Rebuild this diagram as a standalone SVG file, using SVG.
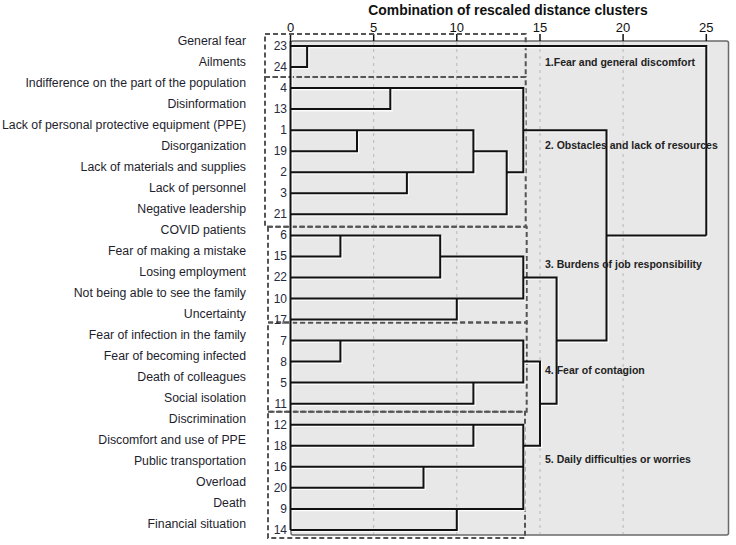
<svg xmlns="http://www.w3.org/2000/svg" xmlns:xlink="http://www.w3.org/1999/xlink" width="736" height="545" viewBox="0 0 736 545">
<style>
  .lbl { font-family: "Liberation Sans", Arial, sans-serif; font-size: 12.3px; fill: #1e1e2e; text-anchor: end; }
  .num { font-family: "Liberation Sans", Arial, sans-serif; font-size: 12px; fill: #262a40; text-anchor: end; }
  .axis { font-family: "Liberation Sans", Arial, sans-serif; font-size: 13px; fill: #111; text-anchor: middle; }
  .title { font-family: "Liberation Sans", Arial, sans-serif; font-size: 13.9px; font-weight: bold; fill: #111; text-anchor: middle; }
  .clab { font-family: "Liberation Sans", Arial, sans-serif; font-size: 10.5px; font-weight: bold; fill: #222; }
  .grid { stroke: #b8b8b8; stroke-width: 1; stroke-dasharray: 3 4; fill: none; }
  .tick { stroke: #111; stroke-width: 1.5; }
  .box { fill: none; stroke: #555; stroke-width: 2; stroke-dasharray: 5 3; }
  #connectors path { fill: none; stroke-width: 2; stroke-linejoin: miter; }
</style>

<!-- plot panel -->
<rect x="291" y="41" width="437.5" height="494" rx="2" fill="#e8e8e8" stroke="#6a6a6a" stroke-width="1.5"/>

<!-- grid lines -->
<g id="grid">
  <line class="grid" x1="373.7" y1="42" x2="373.7" y2="534"/>
  <line class="grid" x1="456.8" y1="42" x2="456.8" y2="534"/>
  <line class="grid" x1="540" y1="42" x2="540" y2="534"/>
  <line class="grid" x1="623.1" y1="42" x2="623.1" y2="534"/>
</g>

<!-- axis -->
<g id="axis">
  <text class="title" x="508" y="15">Combination of rescaled distance clusters</text>
  <text class="axis" x="290.5" y="32">0</text>
  <text class="axis" x="373.7" y="32">5</text>
  <text class="axis" x="456.8" y="32">10</text>
  <text class="axis" x="540" y="32">15</text>
  <text class="axis" x="623.1" y="32">20</text>
  <text class="axis" x="706.3" y="32">25</text>
  <line class="tick" x1="290.5" y1="34" x2="290.5" y2="41"/>
  <line class="tick" x1="373.7" y1="34" x2="373.7" y2="41"/>
  <line class="tick" x1="456.8" y1="34" x2="456.8" y2="41"/>
  <line class="tick" x1="540" y1="34" x2="540" y2="41"/>
  <line class="tick" x1="623.1" y1="34" x2="623.1" y2="41"/>
  <line class="tick" x1="706.3" y1="34" x2="706.3" y2="41"/>
</g>

<!-- dashed cluster boxes -->
<g id="cluster-boxes">
  <rect class="box" x="265" y="34" width="260.7" height="43"/>
  <rect class="box" x="265" y="77" width="260.7" height="149.7"/>
  <rect class="box" x="268" y="226.7" width="258.7" height="95.8"/>
  <rect class="box" x="268" y="322.5" width="258.7" height="89.2"/>
  <rect class="box" x="268" y="411.7" width="257" height="126.3"/>
</g>

<!-- connectors (white halo + black lines) -->
<use xlink:href="#connectors" href="#connectors" stroke="#ffffff" transform="translate(1.3,1.3)" opacity="0.9"/>
<g id="connector-lines" stroke="#111">
  <g id="connectors">
    <path d="M290.5 41V530"/>
    <path d="M290.5 46H706.3V235.4"/>
    <path d="M307.1 46V67H290.5"/>
    <path d="M290.5 88.1H523.3V172.2H506.7"/>
    <path d="M390.3 88.1V109.1H290.5"/>
    <path d="M290.5 130.2H473.4V172.2H290.5"/>
    <path d="M357 130.2V151.2H290.5"/>
    <path d="M406.9 172.2V193.3H290.5"/>
    <path d="M473.4 151.2H506.7V214.3H290.5"/>
    <path d="M523.3 130.2H606.5V340.6H556.6"/>
    <path d="M606.5 235.4H706.3"/>
    <path d="M290.5 235.4H440.2V277.4H290.5"/>
    <path d="M340.4 235.4V256.4H290.5"/>
    <path d="M440.2 256.4H523.3V298.5H290.5"/>
    <path d="M456.8 298.5V319.5H290.5"/>
    <path d="M523.3 277.4H556.6V403.7H540"/>
    <path d="M290.5 340.6H523.3V382.6H290.5"/>
    <path d="M340.4 340.6V361.6H290.5"/>
    <path d="M473.4 382.6V403.7H290.5"/>
    <path d="M523.3 361.6H540V445.8H523.3"/>
    <path d="M290.5 424.7H523.3V508.9H290.5"/>
    <path d="M473.4 424.7V445.8H290.5"/>
    <path d="M290.5 466.8H523.3"/>
    <path d="M423.5 466.8V487.8H290.5"/>
    <path d="M456.8 508.9V529.9H290.5"/>
  </g>
</g>

<!-- leaf nodes -->
<g id="leaf-23"><text class="lbl" x="246" y="44.5">General fear</text><text class="num" x="287" y="50">23</text></g>
<g id="leaf-24"><text class="lbl" x="246" y="65.5">Ailments</text><text class="num" x="287" y="71">24</text></g>
<g id="leaf-4"><text class="lbl" x="246" y="86.6">Indifference on the part of the population</text><text class="num" x="287" y="92.1">4</text></g>
<g id="leaf-13"><text class="lbl" x="246" y="107.6">Disinformation</text><text class="num" x="287" y="113.1">13</text></g>
<g id="leaf-1"><text class="lbl" x="246" y="128.7">Lack of personal protective equipment (PPE)</text><text class="num" x="287" y="134.2">1</text></g>
<g id="leaf-19"><text class="lbl" x="246" y="149.7">Disorganization</text><text class="num" x="287" y="155.2">19</text></g>
<g id="leaf-2"><text class="lbl" x="246" y="170.7">Lack of materials and supplies</text><text class="num" x="287" y="176.2">2</text></g>
<g id="leaf-3"><text class="lbl" x="246" y="191.8">Lack of personnel</text><text class="num" x="287" y="197.3">3</text></g>
<g id="leaf-21"><text class="lbl" x="246" y="212.8">Negative leadership</text><text class="num" x="287" y="218.3">21</text></g>
<g id="leaf-6"><text class="lbl" x="246" y="233.9">COVID patients</text><text class="num" x="287" y="239.4">6</text></g>
<g id="leaf-15"><text class="lbl" x="246" y="254.9">Fear of making a mistake</text><text class="num" x="287" y="260.4">15</text></g>
<g id="leaf-22"><text class="lbl" x="246" y="275.9">Losing employment</text><text class="num" x="287" y="281.4">22</text></g>
<g id="leaf-10"><text class="lbl" x="246" y="297">Not being able to see the family</text><text class="num" x="287" y="302.5">10</text></g>
<g id="leaf-17"><text class="lbl" x="246" y="318">Uncertainty</text><text class="num" x="287" y="323.5">17</text></g>
<g id="leaf-7"><text class="lbl" x="246" y="339.1">Fear of infection in the family</text><text class="num" x="287" y="344.6">7</text></g>
<g id="leaf-8"><text class="lbl" x="246" y="360.1">Fear of becoming infected</text><text class="num" x="287" y="365.6">8</text></g>
<g id="leaf-5"><text class="lbl" x="246" y="381.1">Death of colleagues</text><text class="num" x="287" y="386.6">5</text></g>
<g id="leaf-11"><text class="lbl" x="246" y="402.2">Social isolation</text><text class="num" x="287" y="407.7">11</text></g>
<g id="leaf-12"><text class="lbl" x="246" y="423.2">Discrimination</text><text class="num" x="287" y="428.7">12</text></g>
<g id="leaf-18"><text class="lbl" x="246" y="444.3">Discomfort and use of PPE</text><text class="num" x="287" y="449.8">18</text></g>
<g id="leaf-16"><text class="lbl" x="246" y="465.3">Public transportation</text><text class="num" x="287" y="470.8">16</text></g>
<g id="leaf-20"><text class="lbl" x="246" y="486.3">Overload</text><text class="num" x="287" y="491.8">20</text></g>
<g id="leaf-9"><text class="lbl" x="246" y="507.4">Death</text><text class="num" x="287" y="512.9">9</text></g>
<g id="leaf-14"><text class="lbl" x="246" y="528.4">Financial situation</text><text class="num" x="287" y="533.9">14</text></g>

<!-- cluster labels -->
<g id="cluster-1"><text class="clab" x="545" y="65.5">1.Fear and general discomfort</text></g>
<g id="cluster-2"><text class="clab" x="545" y="149">2. Obstacles and lack of resources</text></g>
<g id="cluster-3"><text class="clab" x="545" y="267.7">3. Burdens of job responsibility</text></g>
<g id="cluster-4"><text class="clab" x="545" y="374">4. Fear of contagion</text></g>
<g id="cluster-5"><text class="clab" x="545" y="462.7">5. Daily difficulties or worries</text></g>
</svg>
